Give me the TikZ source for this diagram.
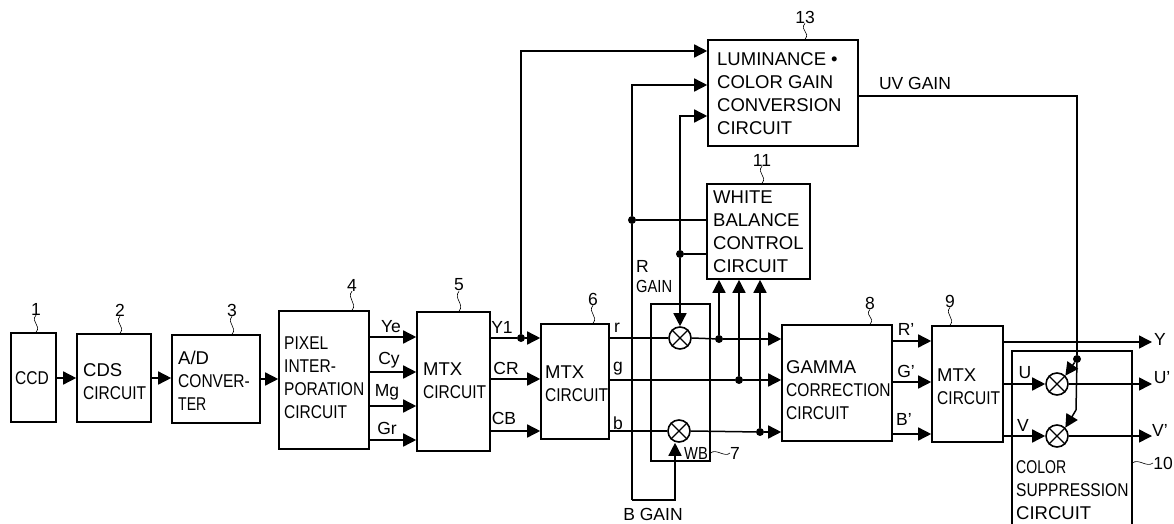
\documentclass[tikz,border=0pt]{standalone}
\usepackage{fontspec}
\setmainfont{Liberation Sans}
\newfontfamily\condA[FakeStretch=0.84]{Liberation Sans}
\newfontfamily\condB[FakeStretch=0.76]{Liberation Sans}
\usetikzlibrary{arrows.meta,fit}
\newcommand{\cn}[1]{{\condA #1}}
\newcommand{\cm}[1]{{\condB #1}}
\tikzset{
  x=1pt,y=-1pt,
  box/.style={draw,line width=1.6pt,inner sep=0pt,rectangle},
  line/.style={line width=1.5pt},
  arr/.style={line width=1.5pt,-{Triangle[length=13pt,width=13pt]}},
  dot/.style={circle,fill=black,inner sep=0pt,minimum size=8pt},
  mul/.style={circle,draw,line width=1.6pt,inner sep=0pt,minimum size=22pt},
  txt/.style={anchor=west,align=left,inner sep=0pt,font=\fontsize{18.5}{23}\selectfont},
  lab/.style={inner sep=0pt,font=\fontsize{17.5}{20}\selectfont},
  num/.style={inner sep=0pt,font=\fontsize{17.5}{20}\selectfont},
  sq/.style={line width=0.6pt}
}
\newcommand{\bx}[5]{\node[box,fit={(#2,#3)(#4,#5)}] (#1) {};}
\newcommand{\mulnode}[3]{\node[mul] (#1) at (#2,#3) {};
  \draw[line width=1.3pt] (#1.north west)--(#1.south east) (#1.north east)--(#1.south west);}
\newcommand{\sqg}[2]{\draw[sq] (#1) .. controls +(-6,7) and +(6,-7) .. (#2);}
\begin{document}
\begin{tikzpicture}
\useasboundingbox (0,0) rectangle (1174,524);
% boxes
\bx{b1}{11}{333}{56}{422}
\bx{b2}{77}{334}{151}{422}
\bx{b3}{172}{335}{260}{423}
\bx{b4}{279}{311}{369}{449}
\bx{b5}{417}{312}{490}{451}
\bx{b6}{541}{324}{609}{439}
\bx{b7}{651}{304}{710}{461}
\bx{b8}{782}{325}{892}{441}
\bx{b9}{932}{326}{1003}{442}
\node[fit={(1012,351)(1132,524)},inner sep=0pt] (b10) {};
\draw[line width=1.6pt] (b10.south west)--(b10.north west)--(b10.north east)--(b10.south east);
\bx{b11}{707}{184}{810}{279}
\bx{b13}{708}{40}{858}{146}
% box texts
\node[txt] (t1) at (15,378) {\cn{CCD}};
\node[txt] (t2) at (83,382) {CDS\\\cn{CIRCUIT}};
\node[txt] (t3) at (178,381) {A/D\\\cn{CONVER-}\\\cm{TER}};
\node[txt] (t4) at (284,378) {\cn{PIXEL}\\\cn{INTER-}\\\cn{PORATION}\\\cn{CIRCUIT}};
\node[txt] (t5) at (423,381) {MTX\\\cn{CIRCUIT}};
\node[txt] (t6) at (545,384) {MTX\\\cn{CIRCUIT}};
\node[txt] (t8) at (786,390) {GAMMA\\\cn{CORRECTION}\\\cn{CIRCUIT}};
\node[txt] (t9) at (937,387) {MTX\\\cn{CIRCUIT}};
\node[txt] (t10) at (1016,490) {\cm{COLOR}\\\cn{SUPPRESSION}\\CIRCUIT};
\node[txt] (t11) at (713,232) {WHITE\\BALANCE\\CONTROL\\CIRCUIT};
\node[txt] (t13) at (717,94) {LUMINANCE\hspace{5pt}•\\COLOR GAIN\\CONVERSION\\CIRCUIT};
% numbers
\node[num] (n1) at (36,309) {1};
\node[num] (n2) at (120,310) {2};
\node[num] (n3) at (232,310) {3};
\node[num] (n4) at (352,285) {4};
\node[num] (n5) at (459,285) {5};
\node[num] (n6) at (593,299) {6};
\node[num] (n7) at (735,453) {7};
\node[num] (n8) at (870,303) {8};
\node[num] (n9) at (950,301) {9};
\node[num] (n10) at (1163,463) {10};
\node[num] (n11) at (762,160) {11};
\node[num] (n13) at (805,17) {13};
\foreach \a/\b in {n1/b1,n2/b2,n3/b3,n4/b4,n5/b5,n6/b6,n8/b8,n9/b9,n11/b11,n13/b13}
  {\sqg{\a.south}{\a.south |- \b.north}}
\draw[sq] (b7.east |- n7) .. controls +(5,-5) and +(-5,5) .. (n7.west);
\draw[sq] (b10.east |- n10) .. controls +(7,-5) and +(-7,5) .. (n10.west);
% port labels
\node[lab] (lYe) at (391,327) {Ye};
\node[lab] (lCy) at (389,360) {Cy};
\node[lab] (lMg) at (387,392) {Mg};
\node[lab] (lGr) at (387,428) {Gr};
\node[lab] (lY1) at (502,327) {Y1};
\node[lab] (lCR) at (506,368) {CR};
\node[lab] (lCB) at (504,418) {CB};
\node[lab] (lr) at (617,328) {r};
\node[lab] (lg) at (618,369) {g};
\node[lab] (lb) at (618,423) {b};
\node[lab,anchor=west,align=left] (lRG) at (636,277) {R\\\cn{GAIN}};
\node[lab] (lBG) at (653,514) {B GAIN};
\node[lab] (lWB) at (696,453) {\cn{WB}};
\node[lab] (lRp) at (906,329) {R'};
\node[lab] (lGp) at (906,371) {G'};
\node[lab] (lBp) at (904,419) {B'};
\node[lab] (lU) at (1025,373) {U};
\node[lab] (lV) at (1023,425) {V};
\node[lab] (lYo) at (1160,339) {Y};
\node[lab] (lUo) at (1162,378) {U'};
\node[lab] (lVo) at (1160,430) {V'};
\node[lab] (lUV) at (915,83) {UV GAIN};
% multipliers
\mulnode{mr}{680}{338}
\mulnode{mb}{679}{431}
\mulnode{mu}{1057}{384}
\mulnode{mv}{1057}{436}
% junctions
\node[dot] (jY) at (521,338) {};
\node[dot] (jR) at (632,220) {};
\node[dot] (jC) at (680,254) {};
\node[dot] (jr) at (719,339) {};
\node[dot] (jg) at (739,380) {};
\node[dot] (jb) at (760,432) {};
\node[dot] (jU) at (1077,359) {};
\coordinate (cV) at (1076,410);
\coordinate (cB1) at (632,500);
\coordinate (cB2) at (675,500);
\coordinate (cO) at (1077,96);
% serial chain
\draw[arr] (b1.east |- 0,378) -- (b2.west |- 0,378);
\draw[arr] (b2.east |- 0,378) -- (b3.west |- 0,378);
\draw[arr] (b3.east |- 0,379) -- (b4.west |- 0,379);
\foreach \y in {337,372,406,440} {\draw[arr] (b4.east |- 0,\y) -- (b5.west |- 0,\y);}
\draw[line] (b5.east |- jY) -- (jY);
\draw[arr] (jY) -- (b6.west |- jY);
\draw[arr] (b5.east |- 0,379) -- (b6.west |- 0,379);
\draw[arr] (b5.east |- 0,431) -- (b6.west |- 0,431);
% to 13
\draw[arr] (jY) |- (b13.west |- 0,51);
\draw[arr] (cB1) -- (jR) |- (b13.west |- 0,85);
\draw[line] (jR) -- (b11.west |- jR);
\draw[arr] (jC) |- (b13.west |- 0,116);
\draw[arr] (jC) -- (mr.north);
\draw[line] (jC) -- (b11.west |- jC);
% gain
\draw[arr] (cB1) -- (cB2) -- (mb.south -| cB2);
% rgb
\draw[line] (b6.east |- mr) -- (mr.west);
\draw[line] (mr.east) -- (jr);
\draw[arr] (jr) -- (b8.west |- jr);
\draw[line] (b6.east |- jg) -- (jg);
\draw[arr] (jg) -- (b8.west |- jg);
\draw[line] (b6.east |- mb) -- (mb.west);
\draw[line] (mb.east) -- (jb);
\draw[arr] (jb) -- (b8.west |- jb);
\draw[arr] (jr) -- (jr |- b11.south);
\draw[arr] (jg) -- (jg |- b11.south);
\draw[arr] (jb) -- (jb |- b11.south);
% gamma to mtx9
\foreach \y in {341,382,434} {\draw[arr] (b8.east |- 0,\y) -- (b9.west |- 0,\y);}
% outputs
\coordinate (eY) at (1152,342);
\coordinate (eU) at (1152,384);
\coordinate (eV) at (1152,436);
\draw[arr] (b9.east |- eY) -- (eY);
\draw[arr] (b9.east |- mu) -- (mu.west);
\draw[arr] (b9.east |- mv) -- (mv.west);
\draw[arr] (mu.east) -- (eU);
\draw[arr] (mv.east) -- (eV);
% UV gain
\draw[line] (b13.east |- cO) -- (cO) -- (jU);
\draw[line] (jU) -- (cV);
\draw[arr] (jU) -- (mu.north east);
\draw[arr] (cV) -- (mv.north east);
\end{tikzpicture}
\end{document}
